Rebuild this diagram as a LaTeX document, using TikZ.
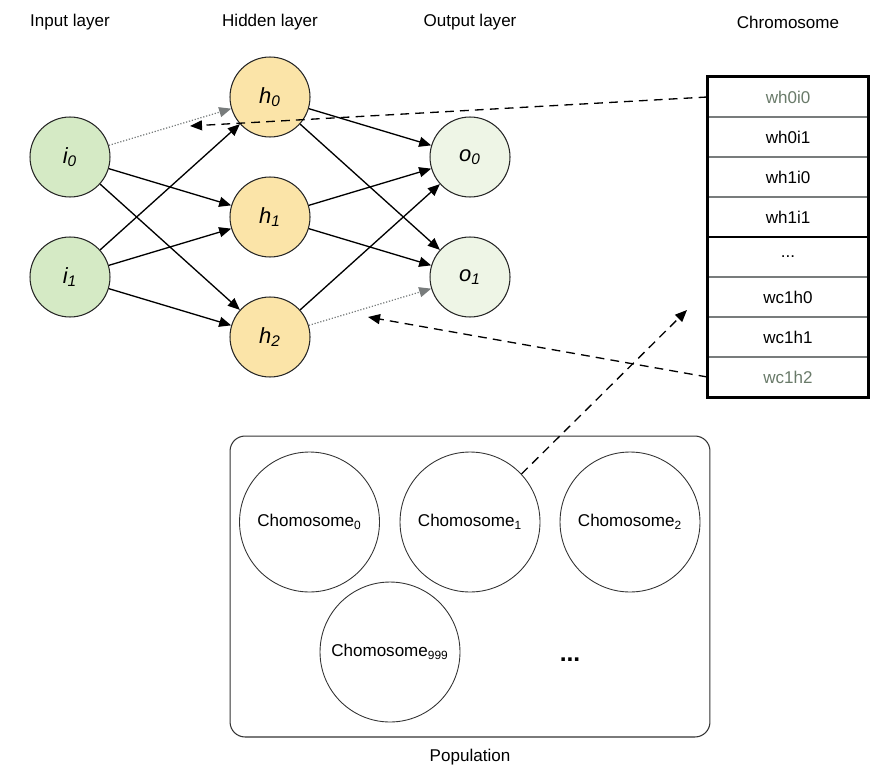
\documentclass[tikz,border=0pt]{standalone}
\usepackage{fontspec}
\setmainfont{Liberation Sans}
\usetikzlibrary{arrows.meta}
\definecolor{infill}{RGB}{213,234,197}
\definecolor{hidfill}{RGB}{251,228,168}
\definecolor{outfill}{RGB}{238,245,230}
\definecolor{fadedtxt}{RGB}{105,122,105}
\definecolor{sepgray}{RGB}{120,124,124}
\begin{document}
\begin{tikzpicture}[x=0.02cm,y=-0.02cm,
  txt/.style={font=\fontsize{9.7}{11.6}\selectfont},
  neuron/.style={circle,draw=black!85,line width=0.6pt,minimum size=1.6cm,inner sep=0pt,font=\fontsize{12.5}{14}\selectfont\itshape},
  inneuron/.style={neuron,fill=infill},
  hidneuron/.style={neuron,fill=hidfill},
  outneuron/.style={neuron,fill=outfill},
  conn/.style={line width=0.75pt,-{Triangle[length=0.24cm,width=0.2cm]}},
  dotconn/.style={line width=0.7pt,draw=sepgray,densely dotted,-{Triangle[length=0.24cm,width=0.2cm,fill=sepgray]}},
  dashconn/.style={line width=0.75pt,dash pattern=on 5pt off 3.5pt,-{Triangle[length=0.24cm,width=0.2cm]}},
  cell/.style={draw=sepgray,line width=0.8pt,minimum width=3.2cm,minimum height=0.8cm,inner sep=0pt,txt},
  chromo/.style={circle,draw=black!80,line width=0.5pt,minimum size=2.8cm,inner sep=0pt,txt},
  header/.style={txt}
]
\useasboundingbox (0,0) rectangle (874,770);

% headers
\node[header] (hin) at (70,22) {Input layer};
\node[header] (hhid) at (270,22) {Hidden layer};
\node[header] (hout) at (470,22) {Output layer};
\node[header] (hchr) at (788,22) {Chromosome};

% neurons
\node[inneuron] (i0) at (70,157) {i\textsubscript{0}};
\node[inneuron] (i1) at (70,277) {i\textsubscript{1}};
\node[hidneuron] (h0) at (270,97) {h\textsubscript{0}};
\node[hidneuron] (h1) at (270,217) {h\textsubscript{1}};
\node[hidneuron] (h2) at (270,337) {h\textsubscript{2}};
\node[outneuron] (o0) at (470,157) {o\textsubscript{0}};
\node[outneuron] (o1) at (470,277) {o\textsubscript{1}};

% connections
\draw[dotconn] (i0) -- (h0);
\draw[conn] (i0) -- (h1);
\draw[conn] (i0) -- (h2);
\draw[conn] (i1) -- (h0);
\draw[conn] (i1) -- (h1);
\draw[conn] (i1) -- (h2);
\draw[conn] (h0) -- (o0);
\draw[conn] (h0) -- (o1);
\draw[conn] (h1) -- (o0);
\draw[conn] (h1) -- (o1);
\draw[conn] (h2) -- (o0);
\draw[dotconn] (h2) -- (o1);

% chromosome table
\node[cell,text=fadedtxt] (r0) at (788,97) {wh0i0};
\node[cell] (r1) at (788,137) {wh0i1};
\node[cell] (r2) at (788,177) {wh1i0};
\node[cell] (r3) at (788,217) {wh1i1};
\node[cell,draw=black] (r4) at (788,257) {...};
\node[cell] (r5) at (788,297) {wc1h0};
\node[cell] (r6) at (788,337) {wc1h1};
\node[cell,text=fadedtxt] (r7) at (788,377) {wc1h2};
\draw[line width=1.6pt] (r0.north west) rectangle (r7.south east);

% population
\node[draw=black!80,line width=0.6pt,rounded corners=0.3cm,minimum width=9.6cm,minimum height=6.02cm] (pop) at (470,586.5) {};
\node[txt] (poplabel) at (470,757) {Population};
\node[chromo] (c0) at (309.5,522) {Chomosome\textsubscript{0}};
\node[chromo] (c1) at (470,522) {Chomosome\textsubscript{1}};
\node[chromo] (c2) at (630,522) {Chomosome\textsubscript{2}};
\node[chromo] (c999) at (390,652) {Chomosome\textsubscript{999}};
\node[font=\fontsize{14}{16}\selectfont\bfseries] (cdots) at (570,660) {...};

% dashed mapping arrows
\coordinate (t0) at (190,126);
\coordinate (t7) at (368,317);
\coordinate (tc) at (687,310);
\draw[dashconn] (r0.west) -- (t0);
\draw[dashconn] (r7.west) -- (t7);
\draw[dashconn] (c1.43) -- (tc);
\end{tikzpicture}
\end{document}
